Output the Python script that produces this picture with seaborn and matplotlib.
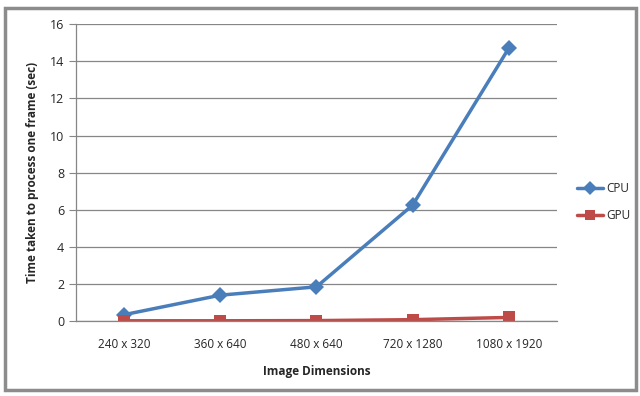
import pandas as pd
import matplotlib.pyplot as plt
import seaborn as sns
from matplotlib.patches import Rectangle

# Chart values
dims = ["240 x 320", "360 x 640", "480 x 640", "720 x 1280", "1080 x 1920"]
cpu = [0.35, 1.4, 1.85, 6.25, 14.7]
gpu = [0.02, 0.02, 0.03, 0.08, 0.2]

df = pd.DataFrame({"dim": dims * 2,
                   "time": cpu + gpu,
                   "proc": ["CPU"] * 5 + ["GPU"] * 5})

sns.set_style("white")
plt.rcParams["font.family"] = ["Open Sans", "DejaVu Sans"]

fig = plt.figure(figsize=(6.4, 3.96), dpi=100)
ax = fig.add_axes([0.119, 0.189, 0.751, 0.75])

# frame around the chart, like the Excel chart area
fig.patches.append(Rectangle((0.008, 0.015), 0.985, 0.965, transform=fig.transFigure,
                             fill=False, edgecolor="#8c8c8c", linewidth=2.5))

colors = {"CPU": "#4a7ebb", "GPU": "#be4b48"}
markers = {"CPU": "D", "GPU": "s"}
sns.lineplot(data=df, x="dim", y="time", hue="proc", style="proc",
             palette=colors, markers=markers, dashes=False, linewidth=2.5,
             markersize=8, markeredgewidth=0, sort=False, ax=ax)

ax.set_ylim(0, 16)
ax.set_xlim(-0.5, 4.5)
ax.set_yticks(range(0, 17, 2))
ax.yaxis.grid(True, color="#868686", linewidth=0.9)
ax.set_axisbelow(True)
for s in ["top", "right"]:
    ax.spines[s].set_visible(False)
for s in ["left", "bottom"]:
    ax.spines[s].set_color("#868686")
    ax.spines[s].set_linewidth(0.9)

ax.set_xticks(range(5))
ax.set_xticklabels(dims, fontsize=8.5)
ax.set_xticks([-0.5, 0.5, 1.5, 2.5, 3.5, 4.5], minor=True)
ax.tick_params(axis="x", which="major", length=0, pad=12)
ax.tick_params(axis="x", which="minor", length=5, color="#868686", direction="out")
ax.tick_params(axis="y", labelsize=9, length=5, color="#868686", left=True)

ax.set_xlabel("Image Dimensions", fontsize=8.5, fontweight="bold", labelpad=10)
ax.set_ylabel("Time taken to process one frame (sec)", fontsize=8.5, fontweight="bold", labelpad=8)

ax.legend(title=None, frameon=False, fontsize=8.5, loc="center left",
          bbox_to_anchor=(1.02, 0.4), handlelength=2.2, handletextpad=0.3,
          labelspacing=1.2, markerscale=0.9)

fig.savefig("out.png", dpi=100)
